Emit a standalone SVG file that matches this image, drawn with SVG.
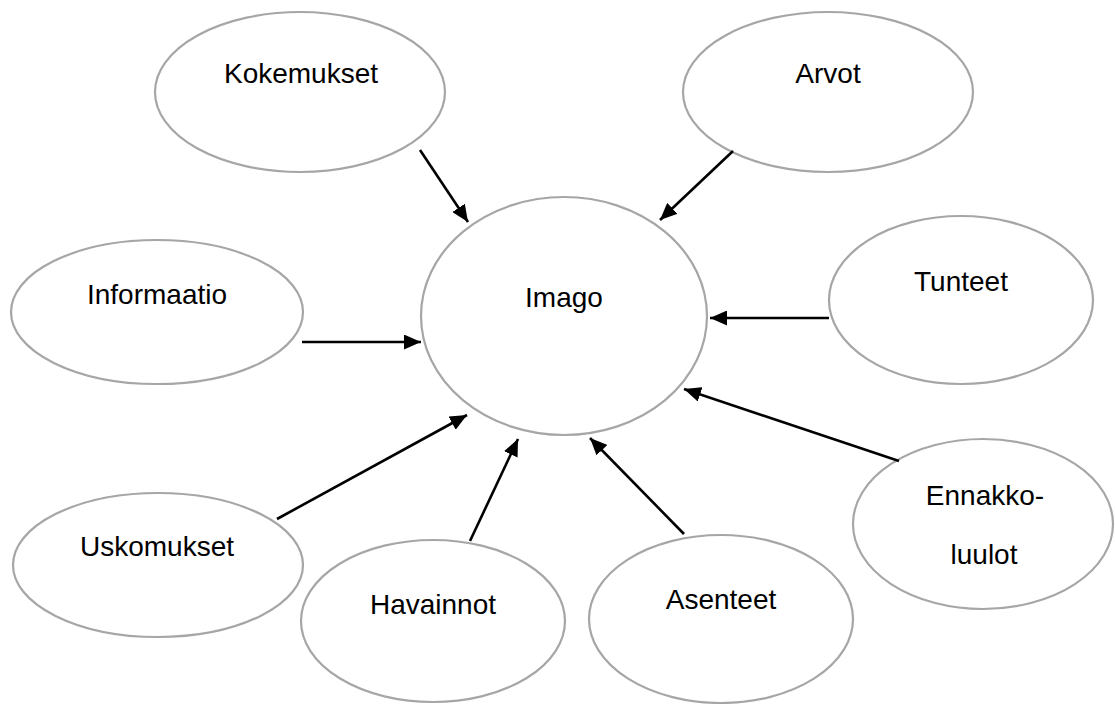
<svg xmlns="http://www.w3.org/2000/svg" width="1115" height="704" viewBox="0 0 1115 704">
<style>
.node ellipse{fill:#ffffff;stroke:#a6a6a6;stroke-width:2.2}
.node text{font-family:"Liberation Sans",Arial,sans-serif;font-size:28px;fill:#000000;text-anchor:middle}
.conn line{stroke:#000000;stroke-width:2.6;marker-end:url(#ah)}
</style>
<defs>
<marker id="ah" markerUnits="userSpaceOnUse" markerWidth="17" markerHeight="15" viewBox="0 0 17 15" refX="17" refY="7.5" orient="auto">
<path d="M0,0 L17,7.5 L0,15 z" fill="#000000"/>
</marker>
</defs>
<rect width="1115" height="704" fill="#ffffff"/>
<g id="kokemukset" class="node"><ellipse cx="300" cy="92" rx="145" ry="80"/><text x="301" y="83">Kokemukset</text></g>
<g id="arvot" class="node"><ellipse cx="828" cy="92" rx="145" ry="80"/><text x="828" y="83">Arvot</text></g>
<g id="imago" class="node"><ellipse cx="564" cy="316" rx="143" ry="119"/><text x="564" y="307">Imago</text></g>
<g id="informaatio" class="node"><ellipse cx="157" cy="312" rx="146" ry="72"/><text x="157" y="304">Informaatio</text></g>
<g id="tunteet" class="node"><ellipse cx="961" cy="300" rx="132" ry="84"/><text x="961" y="291">Tunteet</text></g>
<g id="uskomukset" class="node"><ellipse cx="158" cy="565" rx="145" ry="72"/><text x="157" y="556">Uskomukset</text></g>
<g id="havainnot" class="node"><ellipse cx="433" cy="621" rx="132" ry="81"/><text x="433" y="614">Havainnot</text></g>
<g id="asenteet" class="node"><ellipse cx="721" cy="619" rx="132" ry="84"/><text x="721" y="609">Asenteet</text></g>
<g id="ennakkoluulot" class="node"><ellipse cx="983" cy="524" rx="130" ry="85"/><text x="985" y="505">Ennakko-</text><text x="984" y="564">luulot</text></g>
<g id="connectors" class="conn">
<line x1="420" y1="150" x2="468" y2="222"/>
<line x1="733" y1="151" x2="660" y2="220"/>
<line x1="302" y1="342" x2="421" y2="342"/>
<line x1="829" y1="318" x2="710" y2="318"/>
<line x1="277" y1="519" x2="467" y2="415"/>
<line x1="470" y1="541" x2="518" y2="439"/>
<line x1="684" y1="534" x2="590" y2="438"/>
<line x1="899" y1="461" x2="684" y2="389"/>
</g>
</svg>
